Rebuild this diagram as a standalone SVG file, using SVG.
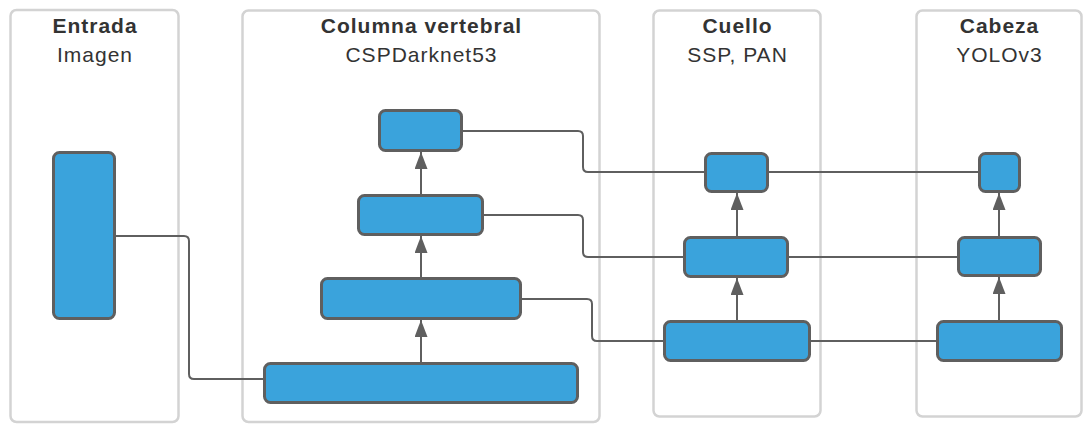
<svg xmlns="http://www.w3.org/2000/svg" width="1083" height="424" viewBox="0 0 1083 424">
  <style>
    .panel { fill: #ffffff; stroke: #d3d3d3; stroke-width: 2.5; }
    .block { fill: #3aa3dc; stroke: #5f5f5f; stroke-width: 3; }
    .title { font-family: "Liberation Sans", Arial, sans-serif; font-size: 21px; letter-spacing: 1px; font-weight: bold; fill: #333333; text-anchor: middle; }
    .sub { font-family: "Liberation Sans", Arial, sans-serif; font-size: 21px; letter-spacing: 1px; fill: #333333; text-anchor: middle; }
    .link { fill: none; stroke: #5f5f5f; stroke-width: 2; }
    .up { fill: none; stroke: #5f5f5f; stroke-width: 2; marker-end: url(#head); }
  </style>
  <defs>
    <marker id="head" viewBox="0 0 17 13" refX="17" refY="6.5" markerWidth="17" markerHeight="13" markerUnits="userSpaceOnUse" orient="auto">
      <path d="M0,0 L17,6.5 L0,13 z" fill="#5f5f5f"/>
    </marker>
  </defs>

  <rect width="1083" height="424" fill="#ffffff"/>

  <!-- stage panels -->
  <g id="stage-entrada">
    <rect class="panel" x="10.5" y="10" width="168" height="412" rx="6"/>
    <text class="title" x="95" y="33">Entrada</text>
    <text class="sub" x="95" y="62">Imagen</text>
  </g>
  <g id="stage-columna">
    <rect class="panel" x="242.5" y="10.5" width="357" height="411.5" rx="6"/>
    <text class="title" x="421.5" y="33">Columna vertebral</text>
    <text class="sub" x="421.5" y="62" fill="#222">CSPDarknet53</text>
  </g>
  <g id="stage-cuello">
    <rect class="panel" x="653.5" y="10.5" width="167" height="406" rx="6"/>
    <text class="title" x="737.5" y="33">Cuello</text>
    <text class="sub" x="737.5" y="62">SSP, PAN</text>
  </g>
  <g id="stage-cabeza">
    <rect class="panel" x="916.5" y="10.5" width="165" height="406" rx="6"/>
    <text class="title" x="999.5" y="33">Cabeza</text>
    <text class="sub" x="999.5" y="62">YOLOv3</text>
  </g>

  <!-- connectors -->
  <g id="connectors">
    <path class="link" d="M116 236 H184 Q189 236 189 241 V374 Q189 379 194 379 H263"/>
    <path class="link" d="M463 131 H578 Q583 131 583 136 V167 Q583 172 588 172 H704"/>
    <path class="link" d="M484 215 H578 Q583 215 583 220 V252 Q583 257 588 257 H683"/>
    <path class="link" d="M522 299 H587 Q592 299 592 304 V336 Q592 341 597 341 H663"/>
    <path class="link" d="M769 172 H978"/>
    <path class="link" d="M789 257 H957"/>
    <path class="link" d="M811 341 H936"/>
    <path class="up" d="M421 362 V320"/>
    <path class="up" d="M421 277 V236"/>
    <path class="up" d="M421 194 V152"/>
    <path class="up" d="M737 320 V278"/>
    <path class="up" d="M737 236 V193"/>
    <path class="up" d="M999 320 V277"/>
    <path class="up" d="M999 236 V193"/>
  </g>

  <!-- blocks -->
  <g id="input-image"><rect class="block" x="53.5" y="152.5" width="61" height="166" rx="6"/></g>
  <g id="backbone-1"><rect class="block" x="264.5" y="363.5" width="313" height="39" rx="6"/></g>
  <g id="backbone-2"><rect class="block" x="321.5" y="278.5" width="199" height="40" rx="6"/></g>
  <g id="backbone-3"><rect class="block" x="358.5" y="195.5" width="124" height="39" rx="6"/></g>
  <g id="backbone-4"><rect class="block" x="379.5" y="110.5" width="82" height="40" rx="6"/></g>
  <g id="neck-1"><rect class="block" x="664.5" y="321.5" width="145" height="39" rx="6"/></g>
  <g id="neck-2"><rect class="block" x="684.5" y="237.5" width="103" height="39" rx="6"/></g>
  <g id="neck-3"><rect class="block" x="705.5" y="153.5" width="62" height="38" rx="6"/></g>
  <g id="head-1"><rect class="block" x="937.5" y="321.5" width="124" height="39" rx="6"/></g>
  <g id="head-2"><rect class="block" x="958.5" y="237.5" width="82" height="38" rx="6"/></g>
  <g id="head-3"><rect class="block" x="979.5" y="153.5" width="40" height="38" rx="6"/></g>
</svg>
